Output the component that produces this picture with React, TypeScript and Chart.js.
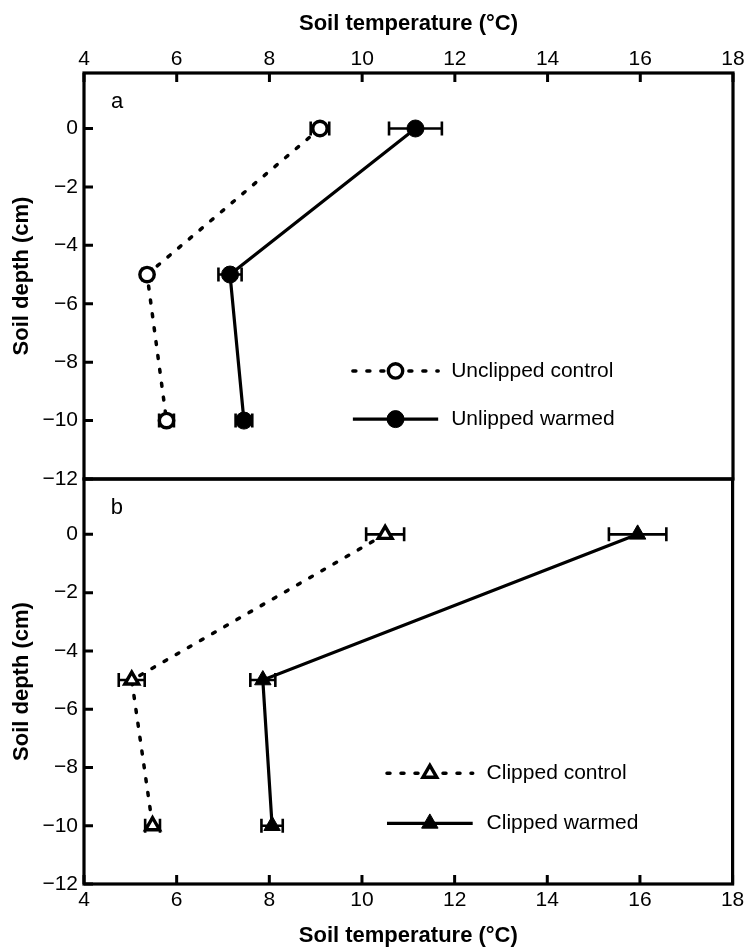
import React, { useEffect, useRef } from 'react';
import { Chart, registerables } from 'chart.js';

Chart.register(...registerables);

// ---------- data ----------
const xTicks = [4, 6, 8, 10, 12, 14, 16, 18];
const yTicks = [0, -2, -4, -6, -8, -10, -12];
const depths = [0, -5, -10];

const unclippedControl = [9.09, 5.36, 5.78];
const unclippedControlErr = [0.2, 0.1, 0.16];
const unclippedWarmed = [11.15, 7.15, 7.45];
const unclippedWarmedErr = [0.57, 0.25, 0.18];

const clippedControl = [10.5, 5.03, 5.48];
const clippedControlErr = [0.41, 0.28, 0.16];
const clippedWarmed = [15.95, 7.86, 8.06];
const clippedWarmedErr = [0.62, 0.27, 0.23];

const xLabel = 'Soil temperature (°C)';
const yLabel = 'Soil depth (cm)';

// ---------- layout ----------
const W = 744;
const H = 949;
const PLOT_LEFT = 84;
const PLOT_RIGHT = 733;
const FONT = "'Liberation Sans', Arial, Helvetica, sans-serif";

type Series = {
  label: string;
  values: number[];
  errs: number[];
  dashed: boolean;
  marker: 'circle' | 'triangle';
  filled: boolean;
};

type Panel = {
  letter: string;
  series: Series[];
  xPos: 'top' | 'bottom';
  top: number;
  bottom: number;
  legendX: [number, number, number];
  legendY: [number, number];
};

const panelA: Panel = {
  letter: 'a',
  series: [
    { label: 'Unclipped control', values: unclippedControl, errs: unclippedControlErr, dashed: true, marker: 'circle', filled: false },
    { label: 'Unlipped warmed', values: unclippedWarmed, errs: unclippedWarmedErr, dashed: false, marker: 'circle', filled: true },
  ],
  xPos: 'top',
  top: 73,
  bottom: 479,
  legendX: [9.8, 11.64, 11.92],
  legendY: [-8.3, -9.95],
};

const panelB: Panel = {
  letter: 'b',
  series: [
    { label: 'Clipped control', values: clippedControl, errs: clippedControlErr, dashed: true, marker: 'triangle', filled: false },
    { label: 'Clipped warmed', values: clippedWarmed, errs: clippedWarmedErr, dashed: false, marker: 'triangle', filled: true },
  ],
  xPos: 'bottom',
  top: 479,
  bottom: 884,
  legendX: [10.54, 12.39, 12.69],
  legendY: [-8.2, -9.92],
};

const fmt = (v: number) => (v < 0 ? '\u2212' + Math.abs(v) : String(v));

function markerRadius(s: Series) {
  if (s.marker === 'circle') return s.filled ? 8.5 : 7.2;
  return s.filled ? 9.5 : 8;
}

function drawMarker(ctx: CanvasRenderingContext2D, s: Series, x: number, y: number) {
  const r = markerRadius(s);
  ctx.save();
  ctx.beginPath();
  if (s.marker === 'circle') {
    ctx.arc(x, y, r, 0, Math.PI * 2);
  } else {
    let rad = 0;
    ctx.moveTo(x + Math.sin(rad) * r, y - Math.cos(rad) * r);
    rad += (2 * Math.PI) / 3;
    ctx.lineTo(x + Math.sin(rad) * r, y - Math.cos(rad) * r);
    rad += (2 * Math.PI) / 3;
    ctx.lineTo(x + Math.sin(rad) * r, y - Math.cos(rad) * r);
  }
  ctx.closePath();
  ctx.fillStyle = s.filled ? '#000' : '#fff';
  ctx.fill();
  ctx.lineWidth = s.filled ? 1 : 3.4;
  ctx.strokeStyle = '#000';
  ctx.stroke();
  ctx.restore();
}

function makePanel(canvas: HTMLCanvasElement, p: Panel) {
  const datasets = p.series.map((s) => ({
    label: s.label,
    data: s.values.map((v, i) => ({ x: v, y: depths[i] })),
    showLine: true,
    borderColor: '#000',
    borderWidth: s.dashed ? 3.5 : 3.2,
    borderDash: s.dashed ? [3, 11] : [],
    borderCapStyle: s.dashed ? 'round' : 'butt',
    pointStyle: s.marker,
    pointRadius: markerRadius(s),
    pointBackgroundColor: s.filled ? '#000' : '#fff',
    pointBorderColor: '#000',
    pointBorderWidth: s.filled ? 1 : 3.4,
    tension: 0,
  }));

  const decor = {
    id: 'decor' + p.letter,
    beforeDatasetsDraw(chart: any) {
      const { ctx } = chart;
      const xs = chart.scales.x;
      const ys = chart.scales.y;
      ctx.save();
      ctx.strokeStyle = '#000';
      ctx.lineWidth = 2.6;
      ctx.lineCap = 'butt';
      p.series.forEach((s) => {
        s.values.forEach((v, i) => {
          const y = ys.getPixelForValue(depths[i]);
          const x0 = xs.getPixelForValue(v - s.errs[i]);
          const x1 = xs.getPixelForValue(v + s.errs[i]);
          ctx.beginPath();
          ctx.moveTo(x0, y);
          ctx.lineTo(x1, y);
          ctx.moveTo(x0, y - 7);
          ctx.lineTo(x0, y + 7);
          ctx.moveTo(x1, y - 7);
          ctx.lineTo(x1, y + 7);
          ctx.stroke();
        });
      });
      ctx.restore();
    },
    afterDraw(chart: any) {
      const { ctx, chartArea } = chart;
      const xs = chart.scales.x;
      const ys = chart.scales.y;
      const { left, right, top, bottom } = chartArea;
      ctx.save();
      ctx.strokeStyle = '#000';
      ctx.lineWidth = 3.2;
      ctx.lineCap = 'square';
      ctx.strokeRect(left, top, right - left, bottom - top);
      ctx.lineCap = 'butt';
      ctx.lineWidth = 3;
      ctx.beginPath();
      yTicks.forEach((v) => {
        const y = ys.getPixelForValue(v);
        ctx.moveTo(left, y);
        ctx.lineTo(left + 9, y);
      });
      xTicks.forEach((v) => {
        const x = xs.getPixelForValue(v);
        if (p.xPos === 'top') {
          ctx.moveTo(x, top);
          ctx.lineTo(x, top + 9);
        } else {
          ctx.moveTo(x, bottom);
          ctx.lineTo(x, bottom - 9);
        }
      });
      ctx.stroke();

      // panel letter
      ctx.fillStyle = '#000';
      ctx.font = `22px ${FONT}`;
      ctx.textAlign = 'left';
      ctx.textBaseline = 'middle';
      ctx.fillText(p.letter, xs.getPixelForValue(4.58), ys.getPixelForValue(0.9));

      // legend
      const lx0 = xs.getPixelForValue(p.legendX[0]);
      const lx1 = xs.getPixelForValue(p.legendX[1]);
      const tx = xs.getPixelForValue(p.legendX[2]);
      p.series.forEach((s, i) => {
        const y = ys.getPixelForValue(p.legendY[i]);
        ctx.save();
        ctx.strokeStyle = '#000';
        ctx.lineWidth = s.dashed ? 3.5 : 3.2;
        ctx.setLineDash(s.dashed ? [3, 11] : []);
        ctx.lineCap = s.dashed ? 'round' : 'butt';
        ctx.beginPath();
        ctx.moveTo(lx0, y);
        ctx.lineTo(lx1, y);
        ctx.stroke();
        ctx.restore();
        drawMarker(ctx, s, (lx0 + lx1) / 2, y);
        ctx.fillStyle = '#000';
        ctx.font = `21px ${FONT}`;
        ctx.textAlign = 'left';
        ctx.textBaseline = 'middle';
        ctx.fillText(s.label, tx, y);
      });
      ctx.restore();
    },
  };

  const isTop = p.xPos === 'top';
  const tickFont = { family: FONT, size: 21 };
  const titleFont = { family: FONT, size: 22, weight: 'bold' as const };

  return new Chart(canvas, {
    type: 'scatter',
    data: { datasets: datasets as any },
    options: {
      responsive: false,
      animation: false,
      events: [],
      layout: {
        padding: {
          left: 0,
          right: W - PLOT_RIGHT,
          top: isTop ? 0 : p.top,
          bottom: isTop ? H - p.bottom : 0,
        },
      },
      plugins: { legend: { display: false }, tooltip: { enabled: false } },
      scales: {
        x: {
          type: 'linear',
          position: p.xPos,
          min: 4,
          max: 18,
          afterBuildTicks: (s: any) => {
            s.ticks = xTicks.map((v) => ({ value: v }));
          },
          afterFit: (s: any) => {
            s.height = isTop ? p.top : H - p.bottom;
            s.paddingLeft = 0;
            s.paddingRight = 0;
          },
          grid: { display: false, drawTicks: false },
          border: { display: false },
          ticks: {
            autoSkip: false,
            maxRotation: 0,
            color: '#000',
            font: tickFont,
            padding: isTop ? 1 : 4,
            callback: (v: any) => fmt(Number(v)),
          },
          title: {
            display: true,
            text: xLabel,
            color: '#000',
            font: titleFont,
            padding: { top: isTop ? 11 : 1, bottom: 0 },
          },
        },
        y: {
          type: 'linear',
          position: 'left',
          min: -12,
          max: 1.9,
          afterBuildTicks: (s: any) => {
            s.ticks = yTicks.map((v) => ({ value: v }));
          },
          afterFit: (s: any) => {
            s.width = PLOT_LEFT;
            s.paddingTop = 0;
            s.paddingBottom = 0;
          },
          grid: { display: false, drawTicks: false },
          border: { display: false },
          ticks: {
            autoSkip: false,
            color: '#000',
            font: tickFont,
            padding: 6,
            callback: (v: any) => fmt(Number(v)),
          },
          title: {
            display: true,
            text: yLabel,
            color: '#000',
            font: titleFont,
            padding: { top: 9, bottom: 0 },
          },
        },
      },
    } as any,
    plugins: [decor],
  });
}

export default function App() {
  const refA = useRef<HTMLCanvasElement>(null);
  const refB = useRef<HTMLCanvasElement>(null);

  useEffect(() => {
    const a = makePanel(refA.current!, panelA);
    const b = makePanel(refB.current!, panelB);
    return () => {
      a.destroy();
      b.destroy();
    };
  }, []);

  return (
    <div style={{ position: 'absolute', left: 0, top: 0, width: W, height: H, background: '#fff' }}>
      <canvas ref={refA} width={W} height={H} style={{ position: 'absolute', left: 0, top: 0 }} />
      <canvas ref={refB} width={W} height={H} style={{ position: 'absolute', left: 0, top: 0 }} />
    </div>
  );
}
